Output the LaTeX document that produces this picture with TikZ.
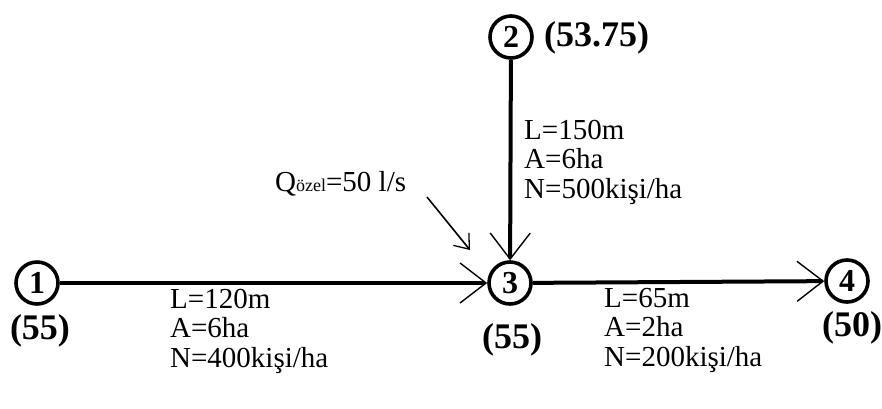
\documentclass[tikz,border=0pt]{standalone}
\usepackage{fontspec}
\setmainfont{Liberation Serif}
\usetikzlibrary{arrows.meta}

\begin{document}
\begin{tikzpicture}[x=1pt,y=-1pt,
    junction/.style={circle, draw, line width=3.6pt, minimum size=42pt, inner sep=0pt,
      font=\fontsize{32}{32}\selectfont\bfseries},
    level/.style={font=\fontsize{36}{36}\selectfont\bfseries, inner sep=0pt},
    pipe/.style={line width=4pt, -{Straight Barb[length=26pt,width=40pt,line width=1.4pt]}},
    info/.style={font=\fontsize{29}{29.5}\selectfont, align=left, anchor=base west, inner sep=0pt}]
  \useasboundingbox (0,0) rectangle (882,408);
  % Junctions
  \foreach \n/\x/\y in {1/37/283, 2/511/37, 3/510/283, 4/847/281}
    \node[junction] (n\n) at (\x,\y) {\n};
  % Ground levels
  \node[level] (h1) at (40,331) {(55)};
  \node[level, anchor=west] (h2) at (544,38) {(53.75)};
  \node[level] (h3) at (512,340) {(55)};
  \node[level] (h4) at (852,328) {(50)};
  % Pipes
  \draw[pipe] (n1) -- (n3);
  \draw[pipe] (n2) -- (n3);
  \draw[pipe] (n3) -- (n4);
  % Pipe data (anchored on the last line)
  \node[info] (d13) at (170,367) {L=120m\\A=6ha\\N=400kişi/ha};
  \node[info] (d23) at (524,198) {L=150m\\A=6ha\\N=500kişi/ha};
  \node[info] (d34) at (604,366) {L=65m\\A=2ha\\N=200kişi/ha};
  % Special discharge
  \node[info] (q) at (275,191) {Q{\fontsize{18}{18}\selectfont özel}=50 l/s};
  \coordinate (qtip) at (470,250);
  \draw[line width=1.6pt, -{Straight Barb[length=13pt,width=20pt,line width=1.3pt]}]
    (427,197) -- (qtip);
\end{tikzpicture}
\end{document}
